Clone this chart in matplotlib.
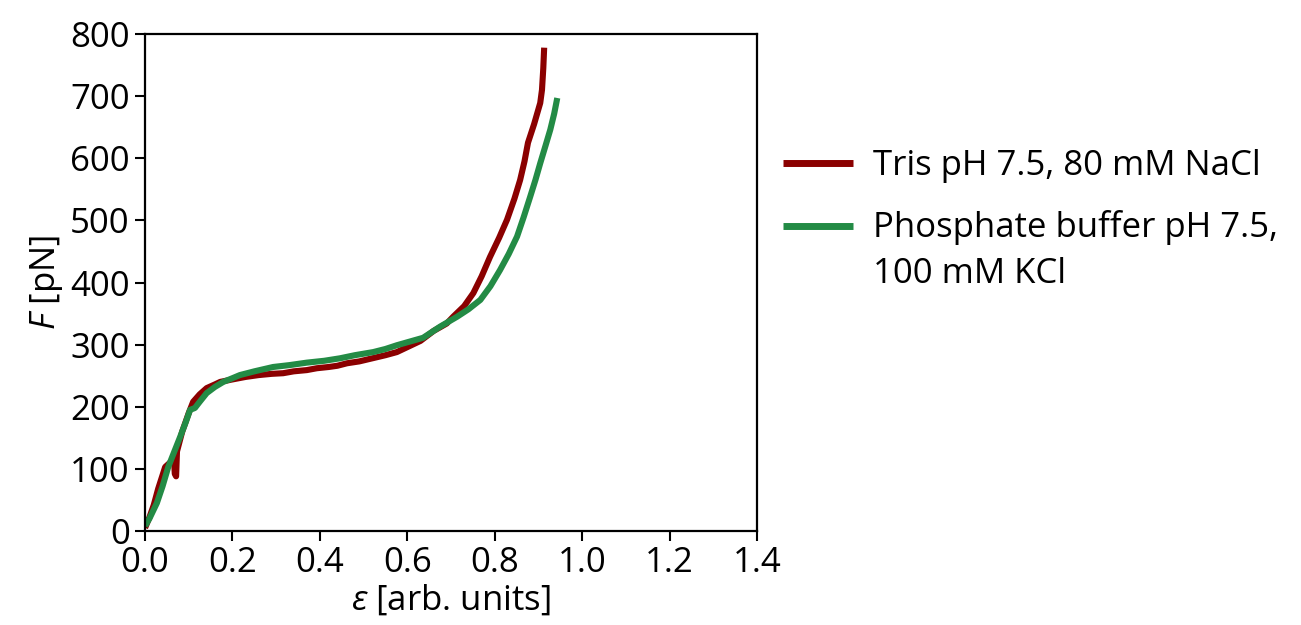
import matplotlib
matplotlib.use("Agg")
import numpy as np
import matplotlib.pyplot as plt
from matplotlib.legend_handler import HandlerLine2D

plt.rcParams['font.family'] = ['Open Sans', 'DejaVu Sans']
plt.rcParams['mathtext.fontset'] = 'custom'
plt.rcParams['mathtext.it'] = 'Open Sans:italic'
plt.rcParams['mathtext.rm'] = 'Open Sans'

# Force-extension curves
tris_strain = [0.0, 0.01, 0.02, 0.03, 0.046, 0.06, 0.066, 0.068, 0.071, 0.073,
               0.085, 0.1, 0.11, 0.125, 0.141, 0.16, 0.172, 0.2, 0.23, 0.26,
               0.29, 0.316, 0.34, 0.37, 0.393, 0.42, 0.44, 0.462, 0.49, 0.52,
               0.55, 0.576, 0.6, 0.63, 0.66, 0.69, 0.705, 0.73, 0.751, 0.77,
               0.789, 0.81, 0.828, 0.845, 0.858, 0.868, 0.876, 0.89, 0.904,
               0.908, 0.911, 0.913]
tris_force = [5, 22, 42, 68, 103, 112, 118, 92, 88, 128,
              160, 190, 208, 220, 230, 236, 240, 244, 248, 251,
              253, 254, 257, 259, 262, 264, 266, 270, 273, 278,
              283, 288, 296, 306, 322, 334, 345, 362, 383, 410,
              441, 472, 501, 535, 565, 595, 625, 655, 689, 710, 745, 778]

phosphate_strain = [0.0, 0.01, 0.027, 0.04, 0.053, 0.067, 0.08, 0.093, 0.103,
                    0.114, 0.125, 0.141, 0.16, 0.179, 0.2, 0.217, 0.25, 0.293,
                    0.33, 0.37, 0.41, 0.446, 0.48, 0.522, 0.55, 0.576, 0.606,
                    0.636, 0.675, 0.714, 0.74, 0.767, 0.79, 0.812, 0.832, 0.851,
                    0.866, 0.881, 0.893, 0.904, 0.916, 0.927, 0.936, 0.943]
phosphate_force = [8, 20, 45, 72, 103, 128, 151, 175, 195,
                   198, 208, 222, 232, 240, 246, 251, 257, 264,
                   267, 271, 274, 278, 283, 288, 293, 299, 305,
                   311, 329, 345, 357, 372, 394, 420, 446, 474,
                   505, 538, 565, 592, 620, 646, 672, 697]

tris_label = "Tris pH 7.5, 80 mM NaCl"
phosphate_label = "Phosphate buffer pH 7.5,\n100 mM KCl"
x_ticks = [0.0, 0.2, 0.4, 0.6, 0.8, 1.0, 1.2, 1.4]
x_tick_labels = ["0.0", "0.2", "0.4", "0.6", "0.8", "1.0", "1.2", "1.4"]
y_ticks = [0, 100, 200, 300, 400, 500, 600, 700, 800]


class FirstLineHandler(HandlerLine2D):
    """Legend line aligned with the first row of a wrapped label."""

    def __init__(self, dy=0.0, **kw):
        super().__init__(**kw)
        self.dy = dy

    def create_artists(self, legend, orig_handle, xdescent, ydescent,
                       width, height, fontsize, trans):
        arts = super().create_artists(legend, orig_handle, xdescent, ydescent,
                                      width, height, fontsize, trans)
        for a in arts:
            a.set_ydata(np.asarray(a.get_ydata(), dtype=float) + self.dy)
        return arts


fig = plt.figure(figsize=(13.01, 6.25), dpi=100)
ax = fig.add_axes([0.1115, 0.1504, 0.4704, 0.7952])

l1, = ax.plot(tris_strain, tris_force, color='#8b0000', lw=4.4,
              solid_joinstyle='round', solid_capstyle='butt', label=tris_label)
l2, = ax.plot(phosphate_strain, phosphate_force, color='#238b45', lw=4.4,
              solid_joinstyle='round', solid_capstyle='butt',
              label=phosphate_label)

ax.set_xlim(0, 1.4)
ax.set_ylim(0, 800)
ax.set_xticks(x_ticks)
ax.set_xticklabels(x_tick_labels)
ax.set_yticks(y_ticks)

for s in ax.spines.values():
    s.set_linewidth(1.6)
ax.tick_params(axis='both', which='major', labelsize=25, length=7, width=1.5,
               direction='out', pad=4)

ax.set_xlabel(r"$\mathit{\varepsilon}$ [arb. units]", fontsize=25, labelpad=2)
ax.set_ylabel(r"$F$ [pN]", fontsize=25, labelpad=4)

leg = ax.legend(handles=[l1, l2], loc='upper left',
                bbox_to_anchor=(1.0425, 0.7686), frameon=False,
                fontsize=25, handlelength=2.0, handletextpad=0.58,
                labelspacing=0.77, borderpad=0, borderaxespad=0,
                handler_map={l2: FirstLineHandler(dy=18.4)})
for line in leg.get_lines():
    line.set_linewidth(5)
for t in leg.get_texts():
    t.set_linespacing(1.47)

fig.savefig("out.png", dpi=100)
